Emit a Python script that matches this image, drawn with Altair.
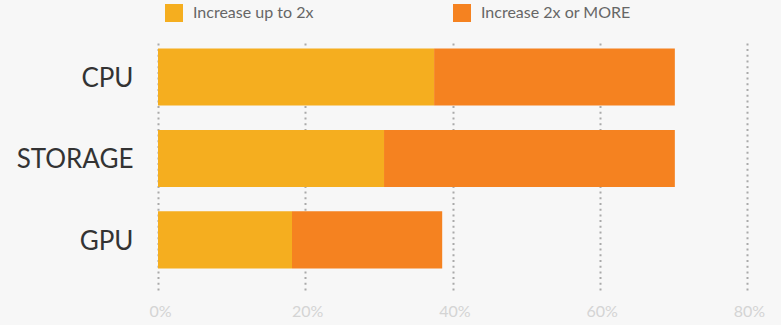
import altair as alt
import pandas as pd

categories = ["CPU", "STORAGE", "GPU"]
up_to_2x = [37.5, 30.7, 18.2]
two_x_or_more = [32.7, 39.5, 20.4]
series = ["Increase up to 2x", "Increase 2x or MORE"]
colors = ["#F5AE1F", "#F58220"]
x_ticks = [0, 20, 40, 60, 80]

rows = []
for c, a, b in zip(categories, up_to_2x, two_x_or_more):
    rows.append({"category": c, "series": series[0], "value": a, "order": 0})
    rows.append({"category": c, "series": series[1], "value": b, "order": 1})
df = pd.DataFrame(rows)

chart = alt.Chart(df).mark_bar().encode(
    y=alt.Y("category:N", sort=categories, title=None,
            scale=alt.Scale(paddingInner=0.3, paddingOuter=0.184, align=0.28),
            axis=alt.Axis(labelFont="Lato", labelFontSize=26, labelColor="#333333",
                          labelPadding=25, labelOffset=2, ticks=False, domain=False, grid=False)),
    x=alt.X("value:Q", stack="zero", title=None,
            scale=alt.Scale(domain=[0, 80], nice=False),
            axis=alt.Axis(values=x_ticks, labelExpr="datum.value + '%'", grid=True,
                          gridDash=[2, 3.7], gridColor="#aaaaaa", gridWidth=2,
                          ticks=False, domain=False, labelFont="Lato", labelFontSize=16,
                          labelColor="#d4d4d4", labelPadding=13, labelOffset=2,
                          labelFlush=False)),
    color=alt.Color("series:N", scale=alt.Scale(domain=series, range=colors),
                    legend=alt.Legend(orient="none", legendX=7, legendY=-36,
                                      direction="horizontal", symbolType="square",
                                      symbolSize=324, symbolStrokeWidth=0,
                                      labelFont="Lato", labelFontSize=16, labelColor="#666666",
                                      labelOffset=10, columnPadding=139, title=None, padding=0)),
    order=alt.Order("order:Q"),
).properties(
    width=589, height=250,
    padding={"left": 158, "top": 40, "right": 34, "bottom": 35},
    autosize="none", background="#F7F7F7"
).configure_view(stroke=None)

chart.save("out.html", embed_options={"renderer": "svg", "actions": False})
